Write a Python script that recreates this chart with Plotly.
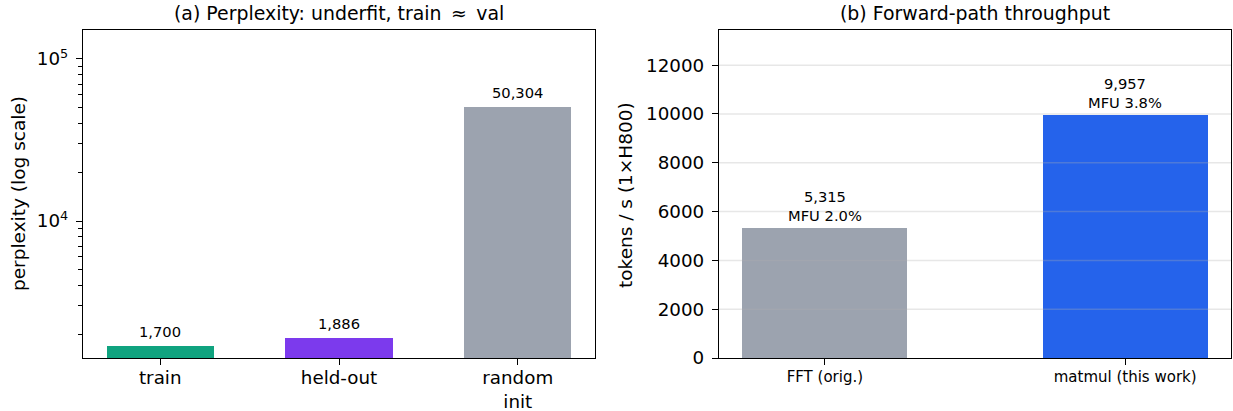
import numpy as np
import plotly.graph_objects as go

# ---- data ----
ppl_labels = ["train", "held-out", "random<br>init"]
ppl_values = [1700, 1886, 50304]
ppl_text = ["1,700", "1,886", "50,304"]
ppl_colors = ["#10a37f", "#7c3aed", "#9ca3af"]
ppl_tickvals = [1e4, 1e5]
ppl_ticktext = ["10<sup>4</sup>", "10<sup>5</sup>"]
ppl_minor_tickvals = [2000, 3000, 4000, 5000, 6000, 7000, 8000, 9000,
                      20000, 30000, 40000, 50000, 60000, 70000, 80000, 90000]

thr_labels = ["FFT (orig.)", "matmul (this work)"]
thr_values = [5315, 9957]
thr_text = ["5,315<br>MFU 2.0%", "9,957<br>MFU 3.8%"]
thr_colors = ["#9ca3af", "#2563eb"]
thr_tickvals = [0, 2000, 4000, 6000, 8000, 10000, 12000]

FONT = "DejaVu Sans"
W, H = 1233, 411
L1, R1 = 83, 595
L2, R2 = 719, 1231
TOP, BOT = 30, 358

fig = go.Figure()
x1 = list(range(len(ppl_values)))
x2 = list(range(len(thr_values)))

fig.add_trace(go.Bar(x=x1, y=ppl_values, width=0.6, marker=dict(color=ppl_colors, line_width=0),
                     xaxis="x", yaxis="y", showlegend=False, hoverinfo="skip"))
fig.add_trace(go.Bar(x=x2, y=thr_values, width=0.55, marker=dict(color=thr_colors, line_width=0),
                     xaxis="x2", yaxis="y2", showlegend=False, hoverinfo="skip"))

annotations = []
for xi, v, t in zip(x1, ppl_values, ppl_text):
    annotations.append(dict(x=xi, y=np.log10(v), xref="x", yref="y", text=t, showarrow=False,
                            yanchor="bottom", yshift=4, font=dict(size=14.7, color="black", family=FONT)))
for xi, v, t in zip(x2, thr_values, thr_text):
    annotations.append(dict(x=xi, y=v, xref="x2", yref="y2", text=t, showarrow=False,
                            yanchor="bottom", yshift=2, font=dict(size=14.7, color="black", family=FONT)))

# subplot titles
annotations.append(dict(x=(L1 + R1) / 2 / W, y=1 - 12.5 / H, xref="paper", yref="paper",
                        text="(a) Perplexity: underfit, train\u2002\u2248\u2002val", showarrow=False,
                        xanchor="center", yanchor="middle", font=dict(size=18.9, color="black", family=FONT)))
annotations.append(dict(x=(L2 + R2) / 2 / W, y=1 - 12.5 / H, xref="paper", yref="paper",
                        text="(b) Forward-path throughput", showarrow=False,
                        xanchor="center", yanchor="middle", font=dict(size=18.9, color="black", family=FONT)))

# y axis titles
annotations.append(dict(x=18 / W, y=1 - 194 / H, xref="paper", yref="paper",
                        text="perplexity (log scale)", showarrow=False, textangle=-90,
                        xanchor="center", yanchor="middle", font=dict(size=18.5, color="black", family=FONT)))
annotations.append(dict(x=625 / W, y=1 - 195 / H, xref="paper", yref="paper",
                        text="tokens / s (1\u00d7H800)", showarrow=False, textangle=-90,
                        xanchor="center", yanchor="middle", font=dict(size=18.5, color="black", family=FONT)))

# gridlines drawn above bars, semi-transparent
shapes = []
for tv in ppl_tickvals:
    shapes.append(dict(type="line", xref="x domain", yref="y", x0=0, x1=1, y0=np.log10(tv), y1=np.log10(tv),
                       line=dict(color="rgba(176,176,176,0.3)", width=1.5), layer="above"))
for tv in thr_tickvals[1:]:
    shapes.append(dict(type="line", xref="x2 domain", yref="y2", x0=0, x1=1, y0=tv, y1=tv,
                       line=dict(color="rgba(176,176,176,0.3)", width=1.5), layer="above"))

ydom = [1 - BOT / H, 1 - TOP / H]
axis_common = dict(showline=True, linecolor="black", linewidth=1.3, mirror=True, ticks="outside",
                   tickcolor="black", ticklen=6, tickwidth=1.2, zeroline=False, showgrid=False,
                   automargin=False)

fig.update_layout(
    width=W, height=H, margin=dict(l=0, r=0, t=0, b=0, autoexpand=False),
    paper_bgcolor="white", plot_bgcolor="white",
    font=dict(family=FONT, color="black"),
    bargap=0,
    xaxis=dict(domain=[L1 / W, R1 / W], range=[-0.432, 2.432], anchor="y",
               tickvals=x1, ticktext=ppl_labels, tickfont=dict(size=18.3),
               ticklabelstandoff=-3, **axis_common),
    yaxis=dict(domain=ydom, type="log", range=[np.log10(1428), np.log10(150912)], anchor="x",
               tickvals=ppl_tickvals, ticktext=ppl_ticktext, tickfont=dict(size=18.3),
               ticklabelstandoff=4,
               minor=dict(ticks="outside", ticklen=3.5, tickcolor="black", tickwidth=1,
                          tickvals=ppl_minor_tickvals, showgrid=False),
               **axis_common),
    xaxis2=dict(domain=[L2 / W, R2 / W], range=[-0.3525, 1.3525], anchor="y2",
                tickvals=x2, ticktext=thr_labels, tickfont=dict(size=15),
                ticklabelstandoff=-1, **axis_common),
    yaxis2=dict(domain=ydom, range=[0, 13442], anchor="x2",
                tickvals=thr_tickvals, tickformat="d", tickfont=dict(size=18.3),
                ticklabelstandoff=4,
                **axis_common),
    annotations=annotations,
    shapes=shapes,
)

fig.write_html("out.html")
